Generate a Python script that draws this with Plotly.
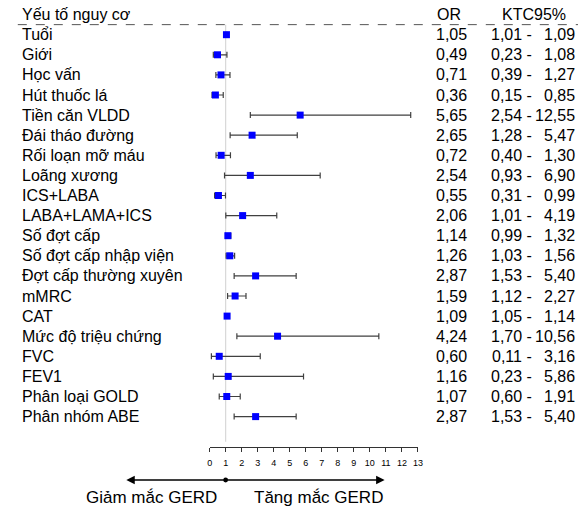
import plotly.graph_objects as go

factors = ["Tuổi", "Giới", "Học vấn", "Hút thuốc lá", "Tiền căn VLDD", "Đái tháo đường",
           "Rối loạn mỡ máu", "Loãng xương", "ICS+LABA", "LABA+LAMA+ICS", "Số đợt cấp",
           "Số đợt cấp nhập viện", "Đợt cấp thường xuyên", "mMRC", "CAT", "Mức độ triệu chứng",
           "FVC", "FEV1", "Phân loại GOLD", "Phân nhóm ABE"]
odds = [1.05, 0.49, 0.71, 0.36, 5.65, 2.65, 0.72, 2.54, 0.55, 2.06, 1.14, 1.26, 2.87, 1.59,
        1.09, 4.24, 0.60, 1.16, 1.07, 2.87]
lower = [1.01, 0.23, 0.39, 0.15, 2.54, 1.28, 0.40, 0.93, 0.31, 1.01, 0.99, 1.03, 1.53, 1.12,
         1.05, 1.70, 0.11, 0.23, 0.60, 1.53]
upper = [1.09, 1.08, 1.27, 0.85, 12.55, 5.47, 1.30, 6.90, 0.99, 4.19, 1.32, 1.56, 5.40, 2.27,
         1.14, 10.56, 3.16, 5.86, 1.91, 5.40]
x_ticks = list(range(0, 14))

W, H = 583, 507
FONT = "Liberation Sans, Arial, sans-serif"

def fmt(v):
    return f"{v:.2f}".replace(".", ",")

rows = list(range(len(factors)))

fig = go.Figure()
fig.add_trace(go.Scatter(
    x=odds, y=rows, mode="markers",
    marker=dict(symbol="square", size=7, color="#0000ff"),
    error_x=dict(type="data", symmetric=False,
                 array=[u - o for u, o in zip(upper, odds)],
                 arrayminus=[o - l for o, l in zip(odds, lower)],
                 color="#404040", thickness=1.2, width=3),
    cliponaxis=False, showlegend=False, hoverinfo="skip"))

ann = []
px = lambda p: p / W
ann.append(dict(x=px(17), y=-1, xref="paper", yref="y", text="Yếu tố nguy cơ",
                xanchor="left", yanchor="middle", showarrow=False, font=dict(size=16)))
ann.append(dict(x=px(452), y=-1, xref="paper", yref="y", text="OR",
                xanchor="center", yanchor="middle", showarrow=False, font=dict(size=16)))
ann.append(dict(x=px(538), y=-1, xref="paper", yref="y", text="KTC95%",
                xanchor="center", yanchor="middle", showarrow=False, font=dict(size=16)))
for i, (f, o, l, u) in enumerate(zip(factors, odds, lower, upper)):
    ann.append(dict(x=px(17), y=i, xref="paper", yref="y", text=f,
                    xanchor="left", yanchor="middle", showarrow=False, font=dict(size=16)))
    ann.append(dict(x=px(472), y=i, xref="paper", yref="y", text=fmt(o),
                    xanchor="right", yanchor="middle", showarrow=False, font=dict(size=16)))
    ann.append(dict(x=px(538), y=i, xref="paper", yref="y", text=fmt(l) + " -",
                    xanchor="right", yanchor="middle", showarrow=False, font=dict(size=16)))
    ann.append(dict(x=px(582), y=i, xref="paper", yref="y", text=fmt(u),
                    xanchor="right", yanchor="middle", showarrow=False, font=dict(size=16)))

# arrows
arrow_y = 1 - 480 / H
for tip in (-5.2, 10.92):
    ann.append(dict(x=tip, y=arrow_y, ax=1, ay=0, xref="x", yref="paper", axref="x",
                    ayref="pixel", showarrow=True, arrowhead=2, arrowsize=1.3,
                    arrowwidth=1.3, arrowcolor="black", text=""))
ann.append(dict(x=px(151), y=1 - 497 / H, xref="paper", yref="paper", text="Giảm mắc GERD",
                xanchor="center", yanchor="middle", showarrow=False, font=dict(size=17)))
ann.append(dict(x=px(320), y=1 - 497 / H, xref="paper", yref="paper", text="Tăng mắc GERD",
                xanchor="center", yanchor="middle", showarrow=False, font=dict(size=17)))

shapes = [
    dict(type="line", xref="paper", yref="y", x0=px(15), x1=1, y0=-0.5, y1=-0.5,
         line=dict(color="#555555", width=1, dash="dash")),
    dict(type="line", xref="x", yref="y", x0=1, x1=1, y0=-0.5, y1=20.25,
         line=dict(color="#d8d8d8", width=1.2), layer="below"),
    dict(type="circle", xref="x", yref="paper", x0=1 - 0.15, x1=1 + 0.15,
         y0=arrow_y - 2.4 / H, y1=arrow_y + 2.4 / H,
         fillcolor="black", line=dict(color="black", width=0)),
]

fig.update_layout(
    width=W, height=H, margin=dict(l=0, r=0, t=0, b=0),
    paper_bgcolor="white", plot_bgcolor="white",
    font=dict(family=FONT, color="black", size=16),
    xaxis=dict(domain=[209.5 / W, 420.7 / W], range=[0, 13], tickvals=x_ticks,
               ticktext=[str(t) for t in x_ticks], showgrid=False, zeroline=False,
               showline=True, linecolor="#333333", linewidth=1, ticks="outside",
               ticklen=4, tickcolor="#333333", tickfont=dict(size=9), fixedrange=True,
               ticklabelstandoff=3),
    yaxis=dict(domain=[60 / H, 1], range=[20.512, -1.726], visible=False, fixedrange=True),
    annotations=ann, shapes=shapes,
)

fig.write_html("out.html", config={"displayModeBar": False},
               post_script="document.body.style.margin='0';document.body.style.overflow='hidden';")
